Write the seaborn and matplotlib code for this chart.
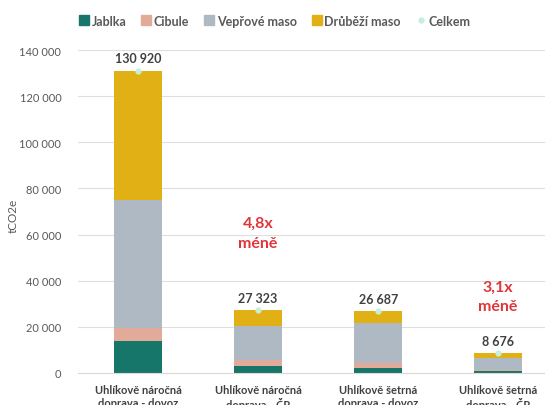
import pandas as pd
import seaborn as sns
import matplotlib.pyplot as plt
from matplotlib.lines import Line2D

# Data
kategorie = ["Uhlíkově náročná\ndoprava - dovoz", "Uhlíkově náročná\ndoprava - ČR",
             "Uhlíkově šetrná\ndoprava - dovoz", "Uhlíkově šetrná\ndoprava - ČR"]
jablka = [13900, 3000, 2200, 850]
cibule = [5600, 2600, 2100, 450]
veprove = [55300, 14800, 17400, 5200]
celkem = [130920, 27323, 26687, 8676]
drubezi = [c - j - ci - v for c, j, ci, v in zip(celkem, jablka, cibule, veprove)]
popisky = ["130 920", "27 323", "26 687", "8 676"]
poznamky = ["", "4,8x\nméně", "", "3,1x\nméně"]
poznamky_y = [0, 53500, 0, 26000]

serie = ["Jablka", "Cibule", "Vepřové maso", "Drůběží maso"]
barvy = ["#16766a", "#e2ab99", "#aeb9c4", "#e1b014"]

df = pd.DataFrame({"kat": kategorie, "Jablka": jablka, "Cibule": cibule,
                   "Vepřové maso": veprove, "Drůběží maso": drubezi})
cum = df[serie].cumsum(axis=1)
cum["kat"] = df["kat"]

sns.set_style("white")
plt.rcParams["font.family"] = ["Lato", "DejaVu Sans"]

fig = plt.figure(figsize=(5.45, 4.06), dpi=100)
ax = fig.add_axes([78 / 545, 32 / 406, 467 / 545, 323 / 406])

# stacked bars: draw from top layer down
for s, b in reversed(list(zip(serie, barvy))):
    sns.barplot(data=cum, x="kat", y=s, color=b, width=0.4, ax=ax,
                saturation=1, edgecolor="none", zorder=2)

# Celkem points
x = list(range(len(kategorie)))
ax.plot(x, celkem, "o", color="#c6eedb", markersize=3.5, zorder=3)
for xi, c, p in zip(x, celkem, popisky):
    ax.text(xi, c + 2800, p, ha="center", va="bottom", fontsize=9,
            fontweight="bold", color="#404040")
for xi, t, y in zip(x, poznamky, poznamky_y):
    if t:
        ax.text(xi, y, t, ha="center", va="bottom", fontsize=11.5,
                fontweight="bold", color="#e0353a", linespacing=1.5)

ax.set_ylim(0, 140000)
ax.set_xlim(-0.5, 3.39)
ax.set_yticks(range(0, 140001, 20000))
ax.set_yticklabels([f"{v:,}".replace(",", " ") for v in range(0, 140001, 20000)])
ax.yaxis.grid(True, color="#dedede", linewidth=0.8, zorder=0)
ax.set_axisbelow(True)
for sp in ["top", "right", "left"]:
    ax.spines[sp].set_visible(False)
ax.spines["bottom"].set_color("#d9d9d9")
ax.tick_params(axis="y", length=0, labelsize=8, labelcolor="#595959", pad=12)
ax.tick_params(axis="x", length=0, labelsize=8, labelcolor="#404040", pad=8)
for lab in ax.get_xticklabels():
    lab.set_fontweight("bold")
ax.set_xlabel("")
ax.set_ylabel("tCO2e", fontsize=8.5, color="#595959")
ax.yaxis.set_label_coords(-0.128, 0.49)

handles = [Line2D([], [], marker="s", linestyle="none", color=b, markersize=7)
           for b in barvy]
handles.append(Line2D([], [], marker="o", linestyle="none", color="#c6eedb", markersize=3.5))
leg = fig.legend(handles, serie + ["Celkem"], loc="center", bbox_to_anchor=(0.505, 0.947),
                 ncol=5, frameon=False, handlelength=0.6, handletextpad=0.3,
                 columnspacing=1.3, prop={"size": 9, "weight": "bold"})
for t in leg.get_texts():
    t.set_color("#595959")

fig.savefig("out.png", dpi=100)
